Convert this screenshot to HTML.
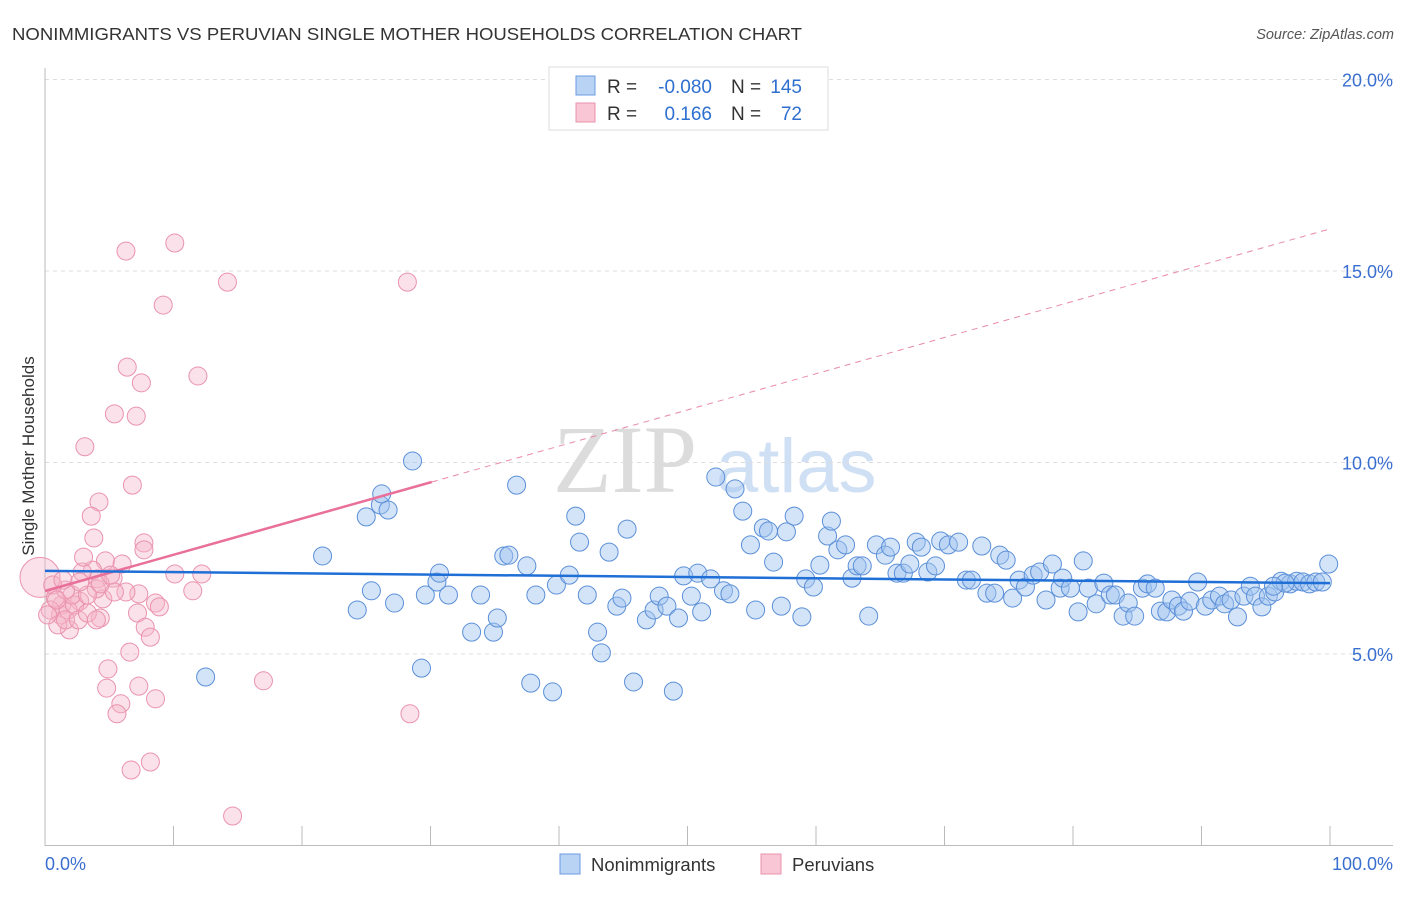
<!DOCTYPE html>
<html><head><meta charset="utf-8"><style>
body{margin:0;background:#fff;font-family:"Liberation Sans",sans-serif;}
svg text{font-family:"Liberation Sans",sans-serif;}
</style></head><body>
<svg id="chart" width="1406" height="892" xmlns="http://www.w3.org/2000/svg">
<text x="12" y="40" font-size="17.5" fill="#333" textLength="790" lengthAdjust="spacingAndGlyphs">NONIMMIGRANTS VS PERUVIAN SINGLE MOTHER HOUSEHOLDS CORRELATION CHART</text>
<text x="1394" y="39" font-size="14.5" fill="#555" font-style="italic" text-anchor="end">Source: ZipAtlas.com</text>
<g>
<text x="553" y="492" font-size="96" fill="#dcdcdc" font-family="Liberation Serif" style="font-family:'Liberation Serif',serif">ZIP</text>
<text x="716" y="492" font-size="76" fill="#cfe0f5">atlas</text>
</g>
<g id="grid"></g>
<g id="axes"></g>
<g id="marks"></g>
<text transform="translate(34,456) rotate(-90)" font-size="17" fill="#333" text-anchor="middle">Single Mother Households</text>
<g>
<rect x="549" y="67" width="279" height="63" fill="#fff" stroke="#ddd"/>
<rect x="576" y="76" width="19" height="19" fill="#b9d3f5" stroke="#6a9be0"/>
<rect x="576" y="103" width="19" height="19" fill="#f9c6d5" stroke="#ea93ae"/>
<text x="607" y="93" font-size="19" fill="#333">R =</text>
<text x="712" y="93" font-size="19" fill="#2f6fd0" text-anchor="end">-0.080</text>
<text x="731" y="93" font-size="19" fill="#333">N =</text>
<text x="802" y="93" font-size="19" fill="#2f6fd0" text-anchor="end">145</text>
<text x="607" y="120" font-size="19" fill="#333">R =</text>
<text x="712" y="120" font-size="19" fill="#2f6fd0" text-anchor="end">0.166</text>
<text x="731" y="120" font-size="19" fill="#333">N =</text>
<text x="802" y="120" font-size="19" fill="#2f6fd0" text-anchor="end">72</text>
</g>
<g>
<rect x="560" y="854" width="20" height="20" fill="#b9d3f5" stroke="#6a9be0"/>
<text x="591" y="871" font-size="18.5" fill="#333">Nonimmigrants</text>
<rect x="761" y="854" width="20" height="20" fill="#f9c6d5" stroke="#ea93ae"/>
<text x="792" y="871" font-size="18.5" fill="#333">Peruvians</text>
</g>
</svg>
<script>
const yTicks=[5,10,15,20];
const yTickLabels=["5.0%","10.0%","15.0%","20.0%"];
const xTickLabels=["0.0%","100.0%"];
const blueX=[12.5,21.6,24.3,25.0,26.1,26.2,26.7,25.4,27.2,28.6,29.3,29.6,30.5,30.7,31.4,33.2,33.9,34.9,35.2,35.7,36.1,36.7,37.5,37.8,38.2,39.5,39.8,40.8,41.3,41.6,42.2,43.0,43.3,43.9,44.5,44.9,45.3,45.8,46.8,47.4,47.8,48.4,48.9,49.3,49.7,50.3,50.8,51.1,51.8,52.2,52.8,53.3,53.7,54.3,54.9,55.3,55.9,56.3,56.7,57.3,57.7,58.3,58.9,59.2,59.8,60.3,60.9,61.2,61.7,62.3,62.8,63.2,63.6,64.1,64.7,65.4,65.8,66.3,66.8,67.3,67.8,68.2,68.7,69.3,69.7,70.3,71.1,71.7,72.1,72.9,73.3,73.9,74.3,74.8,75.3,75.8,76.3,76.9,77.4,77.9,78.4,79.0,79.2,79.8,80.4,80.8,81.2,81.8,82.4,82.9,83.3,83.9,84.3,84.8,85.4,85.8,86.4,86.8,87.3,87.7,88.2,88.6,89.1,89.7,90.3,90.8,91.4,91.8,92.3,92.8,93.3,93.8,94.2,94.7,95.2,95.7,96.2,96.9,97.4,97.9,98.4,98.9,99.4,99.9,96.5,95.6];
const blueY=[4.4,7.56,6.15,8.58,8.89,9.18,8.76,6.65,6.33,10.04,4.63,6.54,6.88,7.11,6.54,5.57,6.54,5.57,5.94,7.56,7.58,9.41,7.30,4.24,6.54,4.01,6.80,7.06,8.60,7.92,6.54,5.57,5.03,7.66,6.25,6.46,8.26,4.27,5.89,6.15,6.51,6.25,4.03,5.94,7.04,6.51,7.11,6.10,6.96,9.62,6.65,6.57,9.31,8.73,7.85,6.15,8.29,8.21,7.40,6.25,8.19,8.60,5.97,6.96,6.75,7.32,8.08,8.47,7.72,7.85,6.98,7.30,7.30,5.99,7.85,7.58,7.79,7.11,7.11,7.35,7.92,7.79,7.14,7.30,7.95,7.85,7.92,6.93,6.93,7.82,6.59,6.59,7.58,7.45,6.46,6.93,6.75,7.06,7.14,6.41,7.35,6.72,6.98,6.72,6.10,7.43,6.72,6.31,6.85,6.54,6.54,5.99,6.33,5.99,6.72,6.83,6.72,6.12,6.10,6.41,6.25,6.12,6.38,6.88,6.25,6.41,6.51,6.31,6.41,5.97,6.51,6.77,6.51,6.23,6.51,6.62,6.90,6.83,6.90,6.88,6.83,6.88,6.88,7.35,6.85,6.77];
const pinkX=[6.3,10.1,14.2,9.2,28.2,6.4,11.9,7.5,5.4,7.1,3.1,6.8,4.2,3.6,3.8,7.7,4.7,7.7,3.7,4.1,2.9,5.3,10.1,12.2,4.5,7.3,11.5,6.3,2.7,8.6,8.9,7.2,7.8,8.2,6.6,4.9,4.3,4.8,7.3,8.6,5.9,5.6,17.0,28.4,6.7,8.2,14.6,4.0,3.0,1.3,0.8,1.9,1.2,1.8,0.4,2.3,2.1,1.0,0.2,1.6,2.6,3.3,1.6,0.6,5.4,6.0,4.3,3.3,5.1,4.0,0.9,1.4,2.7];
const pinkY=[15.52,15.73,14.71,14.11,14.71,12.49,12.26,12.08,11.27,11.21,10.41,9.41,8.97,8.60,8.03,7.90,7.43,7.72,7.19,6.96,7.14,6.98,7.09,7.09,6.44,6.57,6.65,6.62,6.38,6.33,6.23,6.07,5.70,5.44,5.05,4.61,5.94,4.11,4.16,3.83,3.70,3.44,4.30,3.44,1.97,2.18,0.77,6.70,7.53,6.28,6.46,5.63,6.02,6.15,6.15,6.28,6.54,5.76,6.02,5.89,5.89,6.07,6.67,6.80,6.62,7.35,6.83,6.54,7.06,5.89,6.41,6.93,6.88];
const pinkBigX=[0.0];
const pinkBigY=[7.0];
const blueTrend=[7.17,6.85];
const pinkTrend=[6.645,16.1];
const pinkSolidEnd=30.1;

const NS="http://www.w3.org/2000/svg";
const X0=45,X1=1330,YB=845.5,PXPER=38.3;
const sx=v=>X0+(X1-X0)*v/100;
const sy=v=>YB-v*PXPER;
function mk(tag,attrs,parent){const e=document.createElementNS(NS,tag);for(const k in attrs)e.setAttribute(k,attrs[k]);parent.appendChild(e);return e;}
const grid=document.getElementById('grid'),axes=document.getElementById('axes'),marks=document.getElementById('marks');
yTicks.forEach((t,i)=>{
 const l=mk('line',{x1:X0,x2:1393,y1:sy(t),y2:sy(t),stroke:'#ddd','stroke-dasharray':'4,4'},grid);
 
 
 const tx=mk('text',{x:1393,y:sy(t)+7,'font-size':18,fill:'#3a6fd0','text-anchor':'end'},axes);
 tx.textContent=yTickLabels[i];
 
 
});
const la=mk('line',{x1:X0,x2:X0,y1:68,y2:846,stroke:'#bbb'},axes);


const ba=mk('line',{x1:X0,x2:1393,y1:845.5,y2:845.5,stroke:'#bbb'},axes);


for(let i=0;i<=10;i++){
 const t=mk('line',{x1:sx(i*10),x2:sx(i*10),y1:826,y2:846,stroke:'#bbb'},axes);
 
 
}
const xl0=mk('text',{x:45,y:870,'font-size':18,fill:'#3a6fd0'},axes);xl0.textContent=xTickLabels[0];


const xl1=mk('text',{x:1393,y:870,'font-size':18,fill:'#3a6fd0','text-anchor':'end'},axes);xl1.textContent=xTickLabels[1];



pinkBigX.forEach((v,i)=>{const c=mk('circle',{cx:sx(v)-5,cy:sy(pinkBigY[i]),r:20,fill:'rgba(246,180,200,0.4)',stroke:'#ea93ae','stroke-width':1},marks);
 
 });
pinkX.forEach((v,i)=>{const c=mk('circle',{cx:sx(v),cy:sy(pinkY[i]),r:9,fill:'rgba(246,180,200,0.4)',stroke:'#ea93ae','stroke-width':1},marks);
 
 });
blueX.forEach((v,i)=>{const c=mk('circle',{cx:sx(v),cy:sy(blueY[i]),r:9,fill:'rgba(160,196,240,0.45)',stroke:'#5b8fd8','stroke-width':1},marks);
 
 });
const pAt=x=>pinkTrend[0]+(pinkTrend[1]-pinkTrend[0])*x/100;
const pd=mk('line',{x1:sx(pinkSolidEnd),y1:sy(pAt(pinkSolidEnd)),x2:sx(100),y2:sy(pinkTrend[1]),stroke:'#e88aa6','stroke-width':1,'stroke-dasharray':'6,5'},marks);


const ps=mk('line',{x1:sx(0),y1:sy(pinkTrend[0]),x2:sx(pinkSolidEnd),y2:sy(pAt(pinkSolidEnd)),stroke:'#e8709a','stroke-width':2.5},marks);


const bt=mk('line',{x1:sx(0),y1:sy(blueTrend[0]),x2:sx(100),y2:sy(blueTrend[1]),stroke:'#1f6fd6','stroke-width':2.5},marks);


</script>
</body></html>
